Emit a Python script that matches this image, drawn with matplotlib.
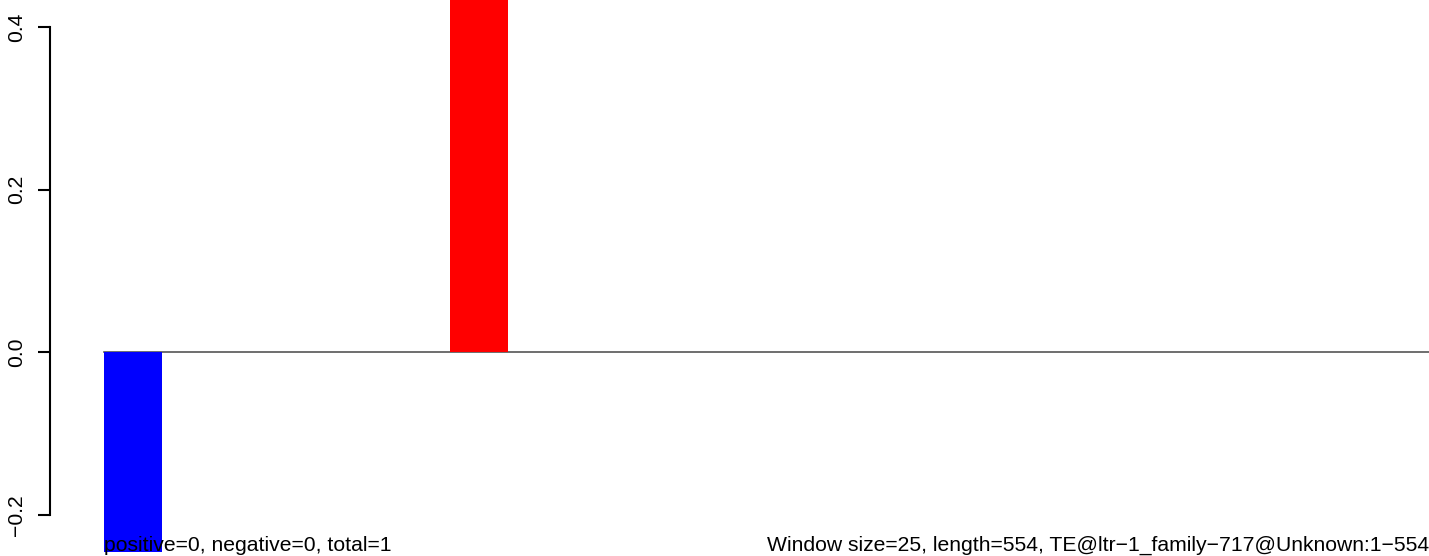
import matplotlib
matplotlib.use("Agg")
import matplotlib.pyplot as plt
import matplotlib.transforms as mtransforms

plt.rcParams["font.family"] = ["Liberation Sans", "DejaVu Sans"]
plt.rcParams["font.size"] = 15.2

# window scores (one bar per window), most are zero
window_scores = [-0.245, 0, 0, 0, 0, 0.5, 0, 0, 0, 0, 0,
                 0, 0, 0, 0, 0, 0, 0, 0, 0, 0, 0]
y_ticks = [-0.2, 0.0, 0.2, 0.4]
y_tick_labels = ["\u22120.2", "0.0", "0.2", "0.4"]
left_note = "positive=0, negative=0, total=1"
right_note = "Window size=25, length=554, TE@ltr\u22121_family\u2212717@Unknown:1\u2212554"

# R barplot style positions: width 1, space 0.2
lefts = [0.2 + 1.2 * i for i in range(len(window_scores))]
colors = ["red" if v > 0 else "blue" for v in window_scores]

fig = plt.figure(figsize=(14.29, 5.56), dpi=100)
ax = fig.add_axes([50 / 1429, 0, 1 - 50 / 1429, 1])

ax.bar(lefts, window_scores, width=1.0, align="edge", color=colors,
       linewidth=0, zorder=2)
ax.plot([lefts[0], lefts[-1] + 1.0], [0, 0], color="#555555", lw=1.2, zorder=1)

ax.set_xlim(-0.736, 23.18)
ax.set_ylim(-0.2504, 0.4331)

for s in ["top", "right", "bottom"]:
    ax.spines[s].set_visible(False)
ax.spines["left"].set_bounds(-0.2, 0.4)
ax.spines["left"].set_linewidth(1.5)
ax.set_xticks([])
ax.set_yticks(y_ticks)
ax.set_yticklabels(y_tick_labels, rotation=90, va="center")
ax.tick_params(axis="y", length=9, width=1.5, pad=8.5, labelsize=15.2)

trans = mtransforms.blended_transform_factory(ax.transData, ax.transAxes)
ax.text(lefts[0], 0.009, left_note, transform=trans, ha="left",
        va="baseline", fontsize=15.2, zorder=3)
ax.text(1.0, 0.009, right_note, transform=ax.transAxes, ha="right",
        va="baseline", fontsize=15.2, zorder=3)

fig.savefig("out.png", dpi=100)
